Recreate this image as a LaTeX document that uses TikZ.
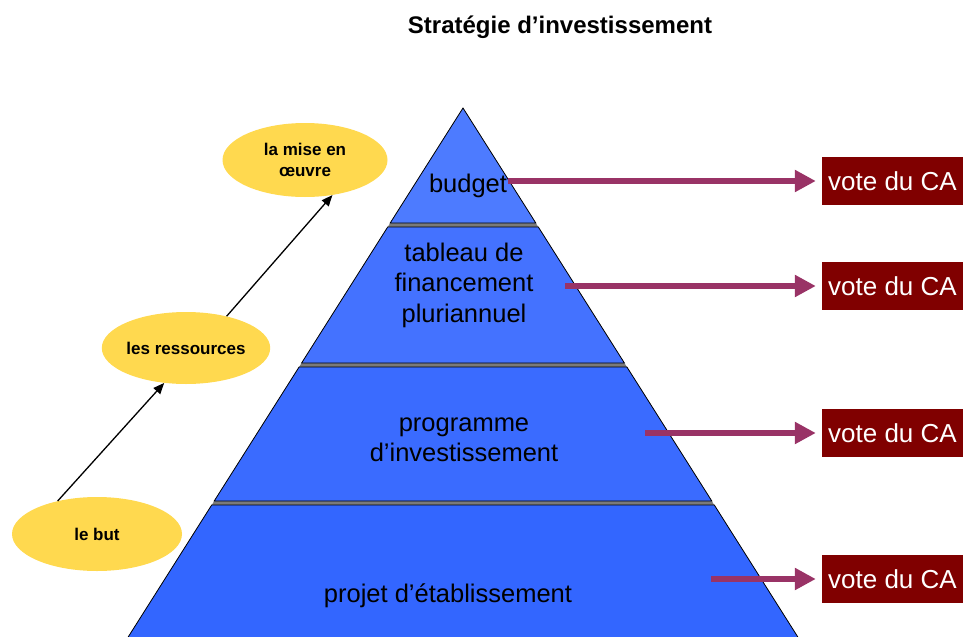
\documentclass[tikz,border=0pt]{standalone}
\usepackage{fontspec}
\setmainfont{Liberation Sans}
\usetikzlibrary{arrows.meta,shapes.geometric}
\definecolor{bandA}{HTML}{4D7BFF}
\definecolor{bandB}{HTML}{4472FF}
\definecolor{bandC}{HTML}{3A6BFF}
\definecolor{bandD}{HTML}{3366FF}
\definecolor{goldfill}{HTML}{FFD94F}
\definecolor{plumline}{HTML}{993366}
\definecolor{boxred}{HTML}{800000}
\definecolor{gapgray}{HTML}{7A7A7A}
\begin{document}
\begin{tikzpicture}[x=1pt,y=-1pt,
  band/.style={draw=black,line width=0.8pt,line join=miter},
  bandtext/.style={inner sep=0pt,font=\fontsize{25.5}{30.5}\selectfont},
  goal/.style={ellipse,fill=goldfill,inner sep=0pt,align=center,font=\bfseries\fontsize{17}{21}\selectfont},
  vote/.style={fill=boxred,text=white,minimum width=141pt,minimum height=48pt,inner sep=0pt,font=\fontsize{26}{30}\selectfont},
  plumarrow/.style={draw=plumline,line width=6pt,-{Triangle[length=21pt,width=21pt]},shorten >=6pt},
  thinarrow/.style={draw=black,line width=1.3pt,-{Triangle[length=11pt,width=9pt]}}]
\useasboundingbox (0,0) rectangle (964,637);
\clip (0,0) rectangle (964,637);
% pyramid
\fill[gapgray] (463,108) -- (123.1,645) -- (802.9,645) -- cycle;
\filldraw[band,fill=bandA] (463,108) -- (535.8,223) -- (390.2,223) -- cycle;
\filldraw[band,fill=bandB] (387.7,227) -- (538.3,227) -- (624.4,363) -- (301.6,363) -- cycle;
\filldraw[band,fill=bandC] (299.1,367) -- (626.9,367) -- (711.8,501) -- (214.2,501) -- cycle;
\filldraw[band,fill=bandD] (211.7,505) -- (714.3,505) -- (802.9,645) -- (123.1,645) -- cycle;
% title
\node[font=\bfseries\fontsize{24}{28}\selectfont,anchor=base] (title) at (560,33) {Stratégie d’investissement};
% band texts
\node[bandtext,anchor=base] (t1) at (468,192) {budget};
\node[bandtext,align=center] (t2) at (464,285) {tableau de\\financement\\pluriannuel};
\node[bandtext,align=center] (t3) at (464,440) {programme\\d’investissement};
\node[bandtext,anchor=base] (t4) at (448,602) {projet d’établissement};
% goals
\node[goal,minimum width=170pt,minimum height=74pt] (but) at (97,534) {le but};
\node[goal,minimum width=168pt,minimum height=72pt] (res) at (186,348) {les ressources};
\node[goal,minimum width=165pt,minimum height=74pt] (mise) at (305,160) {la mise en\\œuvre};
\draw[thinarrow] (but.140) -- (res.238);
\draw[thinarrow] (res.38) -- (mise.308);
% votes
\node[vote] (v1) at (892.5,181) {vote du CA};
\node[vote] (v2) at (892.5,286) {vote du CA};
\node[vote] (v3) at (892.5,433) {vote du CA};
\node[vote] (v4) at (892.5,579) {vote du CA};
\coordinate (a1) at (508,181);
\coordinate (a2) at (565,286);
\coordinate (a3) at (645,433);
\coordinate (a4) at (711,579);
\draw[plumarrow] (a1) -- (v1.west);
\draw[plumarrow] (a2) -- (v2.west);
\draw[plumarrow] (a3) -- (v3.west);
\draw[plumarrow] (a4) -- (v4.west);
\end{tikzpicture}
\end{document}
